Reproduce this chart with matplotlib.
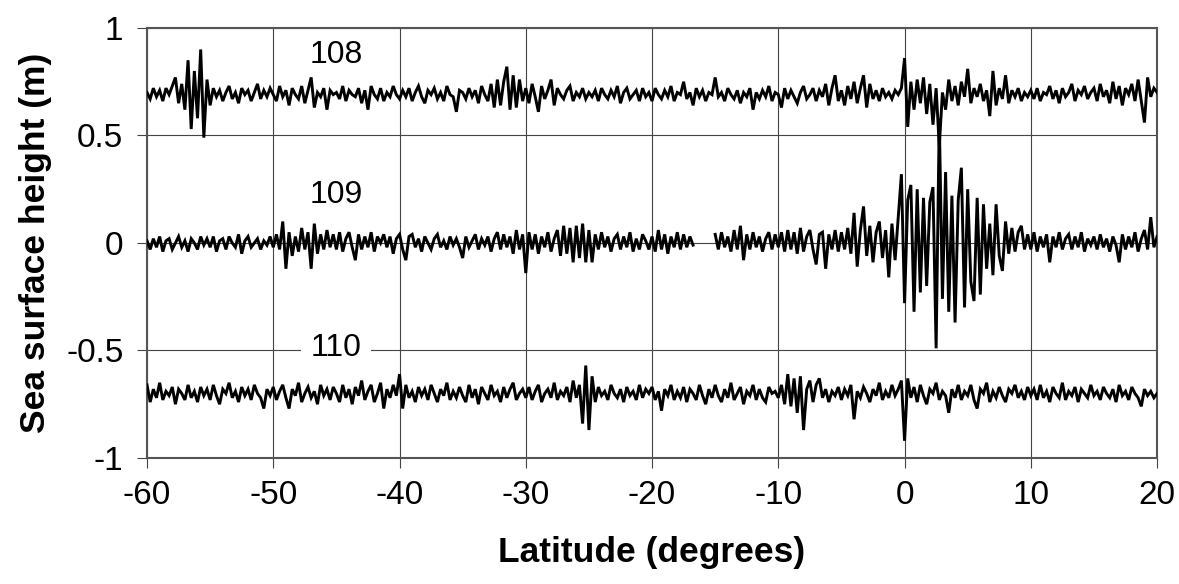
import numpy as np
import matplotlib.pyplot as plt

plt.rcParams['font.family'] = ['Liberation Sans', 'DejaVu Sans']

# Sea surface height profiles, every 0.25 deg latitude (cm)
lat_start, lat_step = -60.0, 0.25

ssh_108 = [
    70, 67, 72, 68, 71, 66, 72, 69, 73, 77, 65, 74, 62, 85, 53, 80, 58, 90, 49, 76,
    64, 72, 68, 71, 66, 70, 73, 67, 70, 65, 72, 69, 71, 66, 70, 74, 67, 71, 68, 72,
    69, 66, 73, 68, 71, 64, 72, 69, 67, 73, 65, 71, 77, 63, 70, 68, 72, 62, 71, 69,
    70, 67, 73, 66, 71, 69, 68, 72, 65, 71, 62, 73, 69, 67, 72, 66, 70, 68, 73, 69,
    67, 71, 68, 72, 66, 70, 73, 68, 65, 71, 69, 72, 67, 70, 66, 73, 69, 68, 61, 71,
    70, 67, 72, 68, 71, 65, 73, 69, 66, 74, 63, 76, 64, 75, 82, 62, 78, 63, 76, 66,
    72, 65, 74, 68, 61, 73, 67, 71, 76, 64, 72, 69, 67, 71, 73, 66, 70, 68, 72, 67,
    70, 68, 71, 66, 72, 69, 67, 71, 68, 73, 65, 70, 72, 67, 69, 71, 66, 72, 68, 70,
    66, 72, 69, 67, 71, 68, 73, 66, 70, 69, 75, 67, 70, 64, 72, 68, 71, 66, 70, 69,
    77, 68, 70, 66, 72, 69, 67, 71, 65, 70, 68, 72, 62, 70, 67, 71, 68, 73, 66, 70,
    69, 63, 72, 67, 71, 68, 65, 70, 73, 67, 69, 72, 66, 71, 68, 74, 64, 72, 78, 66,
    71, 64, 73, 67, 75, 65, 72, 78, 63, 74, 67, 71, 66, 72, 68, 70, 67, 71, 69, 72,
    86, 54, 75, 62, 76, 65, 77, 60, 74, 55, 72, 45, 70, 62, 76, 66, 73, 64, 75, 68,
    81, 65, 72, 68, 74, 66, 71, 59, 80, 64, 72, 67, 78, 65, 71, 68, 72, 66, 70, 68,
    71, 67, 72, 66, 70, 69, 73, 67, 71, 65, 72, 68, 70, 74, 66, 71, 69, 73, 67, 70,
    72, 66, 74, 68, 71, 65, 75, 67, 73, 64, 72, 69, 74, 66, 76, 66, 56, 77, 68, 72,
    70,
]

nan = np.nan
ssh_109 = [
    1, -3, 2, -2, 3, -4, 1, 2, -3, 0, 3, -2, 1, -4, 2, 0, -3, 3, -1, 2,
    -2, 3, -4, 1, 2, -3, 3, 0, -2, 4, -5, 1, 3, -2, 0, 2, -3, 1, -1, 3,
    -2, 4, -3, 10, -12, 5, -6, 3, -4, 7, -3, 5, -12, 9, -5, 4, -3, 6, -2, 4,
    -3, 5, -4, 2, 5, -2, -8, 4, -3, 3, -2, 5, -4, 3, 0, 4, -2, 3, -5, 2,
    4, -3, -8, 3, 4, -2, 2, -4, 3, 0, -3, 2, 4, -2, 1, -3, 3, -1, 2, -2,
    -7, 3, -2, 1, 4, -3, 2, -1, 3, -4, 2, 5, -3, 4, -2, 3, -5, 6, -3, 4,
    -14, 5, -3, 4, -5, 3, -2, 5, -4, 2, 6, -6, 8, -5, 7, -9, 8, -7, 9, -9,
    6, -9, 4, -3, 5, -2, 3, -4, 2, 4, -3, 3, -2, 5, -4, 2, -3, 4, 1, -3,
    3, -4, 6, -3, 4, -5, 3, -2, 5, -3, 4, -2, 3, -1, nan, nan, nan, nan, nan, nan,
    4, -3, 5, -2, 3, -4, 6, -3, 8, -8, 4, -3, 5, -2, 3, -4, 2, 5, -3, 4,
    -2, 5, -4, 6, -3, 5, -5, 7, -4, 3, 6, -3, -10, 4, 5, -12, 4, -3, 6, -4,
    5, -3, 7, -5, 14, -11, 6, 17, -6, 8, -9, 5, 10, -7, 6, -16, 9, -8, 12, 32,
    -28, 20, 27, -32, 25, -23, 21, -20, 19, 26, -49, 58, -26, 33, -32, 22, -37, 20, 35, -30,
    25, -18, -27, 21, -24, 18, -12, 9, -15, 18, -6, -13, 10, -5, 7, -4, 5, 8, -3, 4,
    -3, 5, -4, 3, -2, 4, -9, 3, -2, 5, -3, 2, 4, -3, 3, -2, 5, -4, 2, -1,
    3, -3, 4, -2, 2, -4, 3, -1, -9, 4, -3, 3, -2, 5, -4, 2, 6, -3, 12, -2,
    3,
]

ssh_110 = [
    -66, -74, -68, -72, -65, -73, -69, -71, -67, -75, -68, -70, -73, -66, -72, -69, -74, -67, -71, -68,
    -73, -66, -71, -75, -68, -70, -65, -72, -69, -74, -67, -71, -68, -73, -66, -70, -72, -77, -68, -71,
    -67, -73, -69, -66, -72, -77, -68, -71, -65, -74, -70, -67, -72, -69, -75, -66, -71, -68, -73, -67,
    -70, -74, -66, -72, -68, -75, -67, -71, -64, -73, -69, -66, -74, -70, -65, -77, -68, -72, -66, -71,
    -61, -77, -66, -72, -69, -74, -67, -71, -68, -73, -66, -70, -74, -68, -71, -65, -73, -69, -72, -67,
    -71, -74, -66, -72, -68, -75, -67, -70, -73, -66, -71, -69, -74, -67, -72, -68, -65, -73, -70, -68,
    -72, -67, -73, -69, -66, -74, -70, -68, -72, -65, -73, -69, -71, -67, -74, -64, -72, -66, -84, -57,
    -87, -62, -74, -67, -71, -69, -73, -66, -70, -72, -68, -74, -67, -71, -69, -73, -66, -72, -68, -70,
    -67, -73, -69, -78, -68, -71, -66, -73, -69, -72, -67, -74, -68, -70, -73, -66, -71, -75, -68, -72,
    -66, -71, -74, -68, -72, -65, -73, -70, -67, -75, -69, -71, -66, -73, -68, -72, -74, -67, -70, -69,
    -72, -66, -75, -61, -76, -63, -79, -62, -87, -68, -64, -74, -66, -63, -72, -68, -74, -69, -71, -67,
    -73, -68, -71, -66, -82, -69, -72, -67, -70, -74, -68, -71, -65, -73, -69, -72, -66, -71, -68, -64,
    -92, -63, -72, -67, -74, -66, -71, -75, -68, -70, -65, -73, -69, -71, -79, -68, -72, -66, -73, -69,
    -71, -66, -73, -77, -68, -70, -65, -74, -69, -72, -67, -71, -74, -68, -70, -66, -72, -69, -73, -67,
    -71, -68, -73, -66, -72, -69, -74, -67, -70, -72, -65, -73, -69, -71, -67, -74, -68, -70, -72, -66,
    -71, -69, -73, -67, -70, -72, -68, -74, -66, -71, -69, -73, -67, -70, -72, -76, -68, -71, -69, -72,
    -70,
]

series_names = ['108', '109', '110']
label_pos = [(-45, 0.875), (-45, 0.225), (-45, -0.49)]

lat = lat_start + lat_step * np.arange(len(ssh_108))

fig = plt.figure(figsize=(11.79, 5.84), dpi=100)
ax = fig.add_axes([0.1247, 0.2158, 0.8567, 0.7363])

for ssh in (ssh_108, ssh_109, ssh_110):
    ax.plot(lat, np.array(ssh, dtype=float) / 100.0, color='black', linewidth=2.1,
            solid_joinstyle='miter', zorder=3)

for name, (x, y) in zip(series_names, label_pos):
    box = None
    if name == '110':
        box = dict(facecolor='white', edgecolor='none', pad=7)
    ax.text(x, y, name, fontsize=23, ha='center', va='center', bbox=box, zorder=4)

ax.set_xlim(-60, 20)
ax.set_ylim(-1, 1)
ax.set_xticks(np.arange(-60, 21, 10))
ax.set_yticks([-1, -0.5, 0, 0.5, 1])
ax.set_yticklabels(['-1', '-0.5', '0', '0.5', '1'])
ax.set_xticklabels([str(v) for v in range(-60, 21, 10)])

ax.grid(True, color='#444444', linewidth=0.8)
ax.set_axisbelow(True)
for sp in ax.spines.values():
    sp.set_color('#555555')
    sp.set_linewidth(1.5)

ax.tick_params(axis='both', labelsize=24, length=7, width=0.8, color='#444444')
ax.tick_params(axis='x', pad=9)
ax.tick_params(axis='y', pad=10)

ax.set_xlabel('Latitude (degrees)', fontsize=25.5, fontweight='bold', labelpad=18)
ax.set_ylabel('Sea surface height (m)', fontsize=25.5, fontweight='bold', labelpad=10)

fig.savefig('out.png', dpi=100)
